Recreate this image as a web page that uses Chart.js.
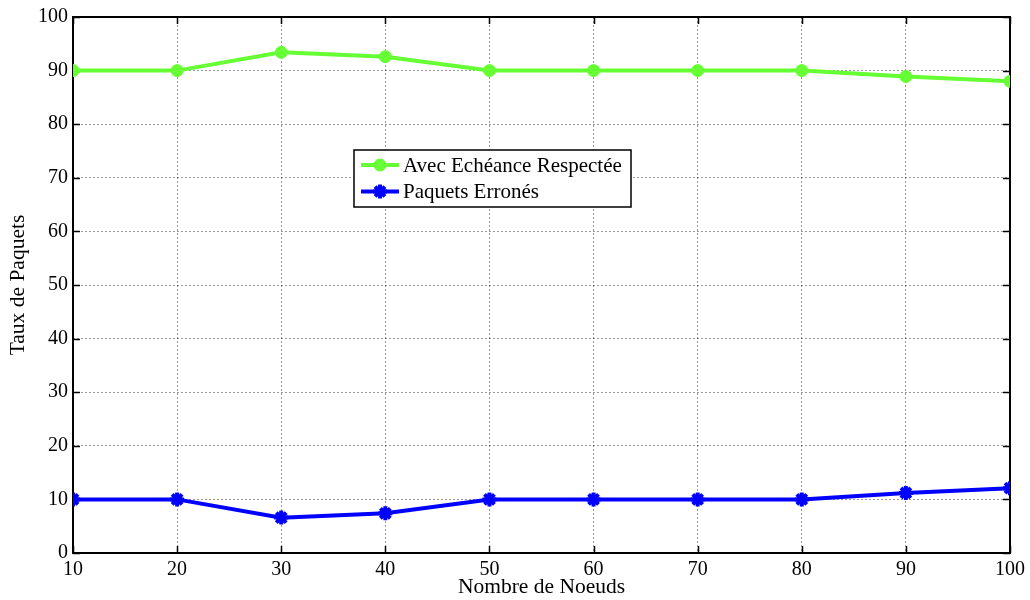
<!DOCTYPE html>
<html>
<head>
<meta charset="utf-8">
<script src="https://cdn.jsdelivr.net/npm/chart.js@4/dist/chart.umd.min.js"></script>
<style>
  html, body { margin: 0; padding: 0; background: #fff; }
  #wrap { width: 1030px; height: 600px; }
</style>
</head>
<body>
<div id="wrap"><canvas id="c" width="1030" height="600"></canvas></div>
<script>
// Number of nodes on the x axis
const noeuds = [10, 20, 30, 40, 50, 60, 70, 80, 90, 100];
// Packet rates (%)
const echeanceRespectee = [90, 90, 93.4, 92.6, 90, 90, 90, 90, 88.9, 88.0];
const paquetsErrones    = [10, 10, 6.6, 7.4, 10, 10, 10, 10, 11.2, 12.1];
const seriesLabels = ['Avec Echéance Respectée', 'Paquets Erronés'];
const xTitle = 'Nombre de Noeuds';
const yTitle = 'Taux de Paquets';

const FONT = "'Liberation Serif', 'Times New Roman', serif";

const pts = (ys) => noeuds.map((x, i) => ({ x, y: ys[i] }));

// Box around the plot area plus inward tick marks on all four sides
const framePlugin = {
  id: 'frame',
  beforeDatasetsDraw(chart) {
    const { ctx, chartArea: a, scales } = chart;
    ctx.save();
    ctx.strokeStyle = '#000';
    ctx.lineWidth = 1.5;
    ctx.beginPath();
    const L = 7;
    scales.x.ticks.forEach(t => {
      const px = Math.round(scales.x.getPixelForValue(t.value)) + 0.5;
      ctx.moveTo(px, a.bottom); ctx.lineTo(px, a.bottom - L);
      ctx.moveTo(px, a.top); ctx.lineTo(px, a.top + L);
    });
    scales.y.ticks.forEach(t => {
      const py = Math.round(scales.y.getPixelForValue(t.value)) + 0.5;
      ctx.moveTo(a.left, py); ctx.lineTo(a.left + L, py);
      ctx.moveTo(a.right, py); ctx.lineTo(a.right - L, py);
    });
    ctx.stroke();
    ctx.lineWidth = 2;
    ctx.strokeRect(a.left, a.top, a.right - a.left, a.bottom - a.top);
    ctx.restore();
  }
};

// Boxed legend placed inside the plot area
const boxLegendPlugin = {
  id: 'boxLegend',
  afterDraw(chart) {
    const { ctx } = chart;
    const x0 = 354, y0 = 150, w = 277, h = 57;
    ctx.save();
    ctx.fillStyle = '#fff';
    ctx.fillRect(x0, y0, w, h);
    ctx.strokeStyle = '#000';
    ctx.lineWidth = 1.5;
    ctx.strokeRect(x0, y0, w, h);
    chart.data.datasets.forEach((ds, i) => {
      const cy = y0 + 15 + i * 26.5;
      ctx.strokeStyle = ds.borderColor;
      ctx.lineWidth = ds.borderWidth;
      ctx.beginPath();
      ctx.moveTo(361, cy); ctx.lineTo(399, cy);
      ctx.stroke();
      ctx.fillStyle = ds.pointBackgroundColor;
      ctx.strokeStyle = ds.pointBorderColor;
      ctx.lineWidth = ds.pointBorderWidth;
      Chart.helpers.drawPoint(ctx, {
        pointStyle: ds.pointStyle,
        radius: ds.pointRadius,
        borderWidth: ds.pointBorderWidth,
        rotation: 0
      }, 380, cy);
      ctx.fillStyle = '#000';
      ctx.font = '21px ' + FONT;
      ctx.textBaseline = 'middle';
      ctx.textAlign = 'left';
      ctx.fillText(ds.label, 403, cy + 1);
    });
    ctx.restore();
  }
};

const gridCommon = {
  color: 'rgba(0,0,0,0.4)',
  lineWidth: 1,
  drawTicks: false
};

new Chart(document.getElementById('c'), {
  type: 'line',
  data: {
    datasets: [
      {
        label: seriesLabels[0],
        data: pts(echeanceRespectee),
        borderColor: '#66ff33',
        backgroundColor: '#66ff33',
        borderWidth: 4,
        pointStyle: 'circle',
        pointRadius: 6,
        pointBorderWidth: 1,
        pointBackgroundColor: '#66ff33',
        pointBorderColor: '#66ff33',
        tension: 0
      },
      {
        label: seriesLabels[1],
        data: pts(paquetsErrones),
        borderColor: '#0000ff',
        backgroundColor: '#0000ff',
        borderWidth: 4,
        pointStyle: 'star',
        pointRadius: 7,
        pointBorderWidth: 4,
        pointBackgroundColor: '#0000ff',
        pointBorderColor: '#0000ff',
        tension: 0
      }
    ]
  },
  options: {
    responsive: false,
    animation: false,
    devicePixelRatio: 1,
    layout: { padding: { top: 13, right: 16.5, left: 0, bottom: 0 } },
    plugins: {
      legend: { display: false },
      tooltip: { enabled: false }
    },
    scales: {
      x: {
        type: 'linear',
        min: 10, max: 100,
        afterFit(s) { s.height = 47; },
        ticks: { stepSize: 10, color: '#000', padding: 5, font: { family: FONT, size: 20 } },
        grid: gridCommon,
        border: { display: false, dash: [2, 2] },
        title: { display: true, text: xTitle, color: '#000', padding: { top: 0, bottom: 0 }, font: { family: FONT, size: 21.5 } }
      },
      y: {
        min: 0, max: 100,
        afterFit(s) { s.width = 73; },
        ticks: { stepSize: 10, color: '#000', padding: 5, font: { family: FONT, size: 20 } },
        grid: gridCommon,
        border: { display: false, dash: [2, 2] },
        title: { display: true, text: yTitle, color: '#000', padding: { top: 5, bottom: 0 }, font: { family: FONT, size: 21.5 } }
      }
    }
  },
  plugins: [framePlugin, boxLegendPlugin]
});
</script>
</body>
</html>
